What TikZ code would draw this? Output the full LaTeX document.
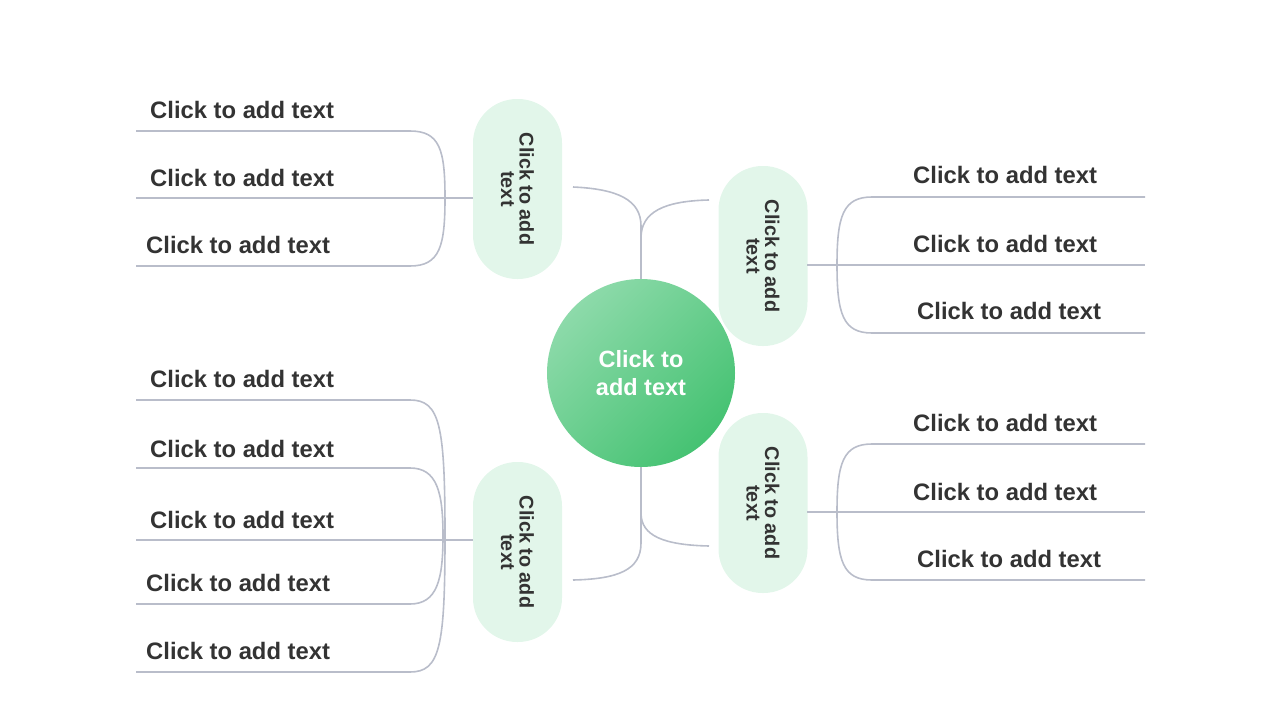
\documentclass[tikz,border=0pt]{standalone}
\usepackage{fontspec}
\setmainfont{Liberation Sans}
\usetikzlibrary{calc}
\definecolor{txtc}{HTML}{333333}
\definecolor{linec}{HTML}{B9BDCA}
\definecolor{pillc}{HTML}{E2F6EA}
\definecolor{hubA}{HTML}{8DDAAA}
\definecolor{hubB}{HTML}{45C272}
\begin{document}
\begin{tikzpicture}[x=1pt,y=-1pt,
  conn/.style={draw=linec, line width=1.6pt},
  leaf/.style={anchor=base west, font=\fontsize{23.8}{28}\selectfont\bfseries, text=txtc, inner sep=0pt},
  pill/.style={rectangle, rounded corners=44pt, fill=pillc, minimum width=180pt, minimum height=89pt, rotate=-90, align=center, text=txtc, font=\fontsize{19.8}{18.5}\selectfont\bfseries, inner sep=0pt},
  hub/.style={circle, minimum size=188pt, top color=hubA, bottom color=hubB, shading angle=45, text=white, align=center, font=\fontsize{23.5}{28}\selectfont\bfseries, inner sep=0pt}]
\useasboundingbox (0,0) rectangle (1280,720);

% central and branch nodes
\node[hub] (hub) at (641,373) {Click to\\add text};
\node[pill] (tl) at (517.5,189) {Click to add\\text};
\node[pill] (tr) at (763,256) {Click to add\\text};
\node[pill] (bl) at (517.5,552) {Click to add\\text};
\node[pill] (br) at (763,503) {Click to add\\text};

% junction coordinates
\coordinate (tlA) at (573,187);
\coordinate (trA) at (709,200);
\coordinate (blA) at (573,580);
\coordinate (brA) at (709,546);
\coordinate (jT1) at (641,226);
\coordinate (jT2) at (641,238);
\coordinate (jB1) at (641,513);
\coordinate (jB2) at (641,543);

% trunk connectors
\draw[conn] (tlA) .. controls (618,189) and (641,200) .. (jT1) -- (hub.north);
\draw[conn] (trA) .. controls (664,201) and (641,212) .. (jT2);
\draw[conn] (hub.south) -- (jB2) .. controls (641,570) and (618,579) .. (blA);
\draw[conn] (jB1) .. controls (641,536) and (664,545) .. (brA);

% ---- top-left group
\coordinate (tlL) at (473,198);
\coordinate (a1s) at (136,131);
\coordinate (a2s) at (136,198);
\coordinate (a3s) at (136,266);
\node[leaf] (a1) at (150,118) {Click to add text};
\node[leaf] (a2) at (150,186) {Click to add text};
\node[leaf] (a3) at (146,253) {Click to add text};
\draw[conn] (tlL) -- (a2s);
\draw[conn] (a1s) -- (410,131) .. controls (440,131) and (445,150) .. (445,198) .. controls (445,246) and (440,266) .. (410,266) -- (a3s);

% ---- top-right group
\coordinate (trR) at (807,265);
\coordinate (b1e) at (1145,197);
\coordinate (b2e) at (1145,265);
\coordinate (b3e) at (1145,333);
\node[leaf] (b1) at (913,183) {Click to add text};
\node[leaf] (b2) at (913,252) {Click to add text};
\node[leaf] (b3) at (917,319) {Click to add text};
\draw[conn] (trR) -- (b2e);
\draw[conn] (b1e) -- (872,197) .. controls (843,197) and (837,216) .. (837,265) .. controls (837,314) and (843,333) .. (872,333) -- (b3e);

% ---- bottom-left group
\coordinate (blL) at (473,540);
\coordinate (c1s) at (136,400);
\coordinate (c2s) at (136,468);
\coordinate (c3s) at (136,540);
\coordinate (c4s) at (136,604);
\coordinate (c5s) at (136,672);
\node[leaf] (c1) at (150,387) {Click to add text};
\node[leaf] (c2) at (150,457) {Click to add text};
\node[leaf] (c3) at (150,528) {Click to add text};
\node[leaf] (c4) at (146,591) {Click to add text};
\node[leaf] (c5) at (146,659) {Click to add text};
\draw[conn] (blL) -- (c3s);
\draw[conn] (c1s) -- (410,400) .. controls (440,400) and (445,425) .. (445,536) .. controls (445,647) and (440,672) .. (410,672) -- (c5s);
\draw[conn] (c2s) -- (410,468) .. controls (437,468) and (443,492) .. (443,536) .. controls (443,580) and (437,604) .. (410,604) -- (c4s);

% ---- bottom-right group
\coordinate (brR) at (807,512);
\coordinate (d1e) at (1145,444);
\coordinate (d2e) at (1145,512);
\coordinate (d3e) at (1145,580);
\node[leaf] (d1) at (913,431) {Click to add text};
\node[leaf] (d2) at (913,500) {Click to add text};
\node[leaf] (d3) at (917,567) {Click to add text};
\draw[conn] (brR) -- (d2e);
\draw[conn] (d1e) -- (872,444) .. controls (843,444) and (837,463) .. (837,512) .. controls (837,561) and (843,580) .. (872,580) -- (d3e);
\end{tikzpicture}
\end{document}
